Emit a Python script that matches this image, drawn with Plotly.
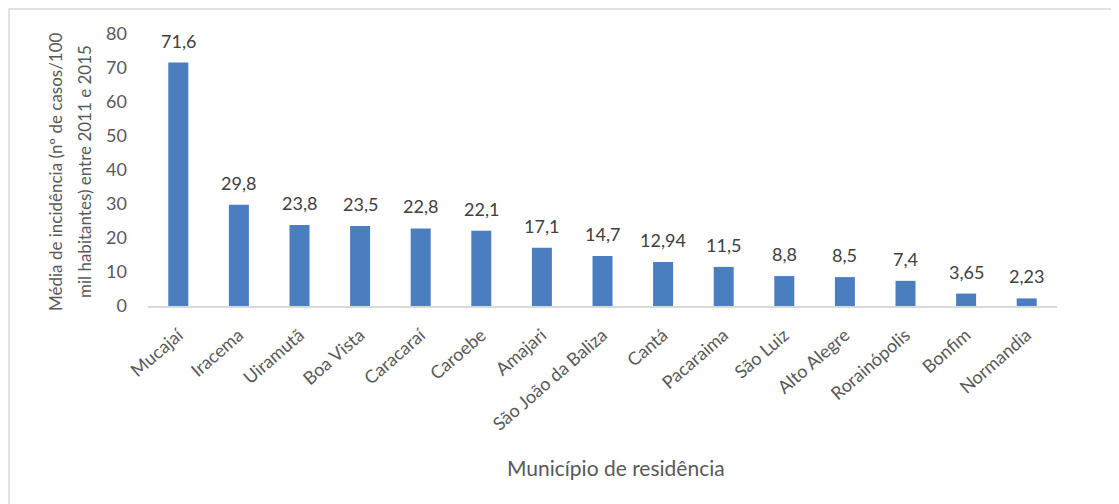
import plotly.graph_objects as go

municipios = ["Mucajaí", "Iracema", "Uiramutã", "Boa Vista", "Caracaraí", "Caroebe",
              "Amajari", "São João da Baliza", "Cantá", "Pacaraima", "São Luiz",
              "Alto Alegre", "Rorainópolis", "Bonfim", "Normandia"]
incidencia = [71.6, 29.8, 23.8, 23.5, 22.8, 22.1, 17.1, 14.7, 12.94, 11.5, 8.8, 8.5, 7.4, 3.65, 2.23]
rotulos = [str(v).replace(".", ",") for v in incidencia]
y_ticks = [0, 10, 20, 30, 40, 50, 60, 70, 80]
titulo_y = ["Média de incidência (nº de casos/100", "mil habitantes) entre 2011 e 2015"]

OFF = 8  # page body margin
W, H = 1119 - OFF, 504 - OFF
L, T = 148 - OFF, 34 - OFF
R = 62
B = H - (306 - OFF)
pw, ph = W - L - R, H - T - B

def px_x(p):
    return (p - OFF - L) / pw

def px_y(p):
    return (H - B - (p - OFF)) / ph

font = "Lato, 'Open Sans', sans-serif"

fig = go.Figure()
fig.add_trace(go.Bar(
    x=municipios, y=incidencia,
    marker=dict(color="#4a7ebf", line=dict(width=0)),
    width=0.33,
    hoverinfo="skip",
))

for m, v, t in zip(municipios, incidencia, rotulos):
    fig.add_annotation(x=m, y=v, text=t, showarrow=False, yanchor="bottom",
                       yshift=9, font=dict(family=font, size=18, color="#404040"))

for linha, xc in zip(titulo_y, [55, 84]):
    fig.add_annotation(xref="paper", yref="paper", x=px_x(xc), y=px_y(172),
                       text=linha, textangle=-90, showarrow=False,
                       xanchor="center", yanchor="middle",
                       font=dict(family=font, size=17, color="#595959"))
fig.add_annotation(xref="paper", yref="paper", x=px_x(616), y=px_y(467),
                   text="Município de residência", showarrow=False,
                   xanchor="center", yanchor="middle",
                   font=dict(family=font, size=21, color="#595959"))

fig.add_shape(type="rect", xref="paper", yref="paper",
              x0=px_x(9), x1=px_x(1140), y0=px_y(530), y1=px_y(9),
              line=dict(color="#d9d9d9", width=1.5), layer="below")

fig.update_layout(
    width=W, height=H,
    margin=dict(l=L, r=R, t=T, b=B),
    paper_bgcolor="white", plot_bgcolor="white",
    showlegend=False,
    xaxis=dict(tickangle=-41, showline=True, linecolor="#d9d9d9", linewidth=1.5,
               tickfont=dict(family=font, size=18, color="#595959"),
               ticks="", showgrid=False, ticklabelstandoff=10),
    yaxis=dict(range=[0, 80], tickvals=y_ticks, showgrid=False, zeroline=False,
               showline=False, ticks="", ticklabelstandoff=20,
               tickfont=dict(family=font, size=18, color="#595959")),
)

fig.write_html("out.html")
